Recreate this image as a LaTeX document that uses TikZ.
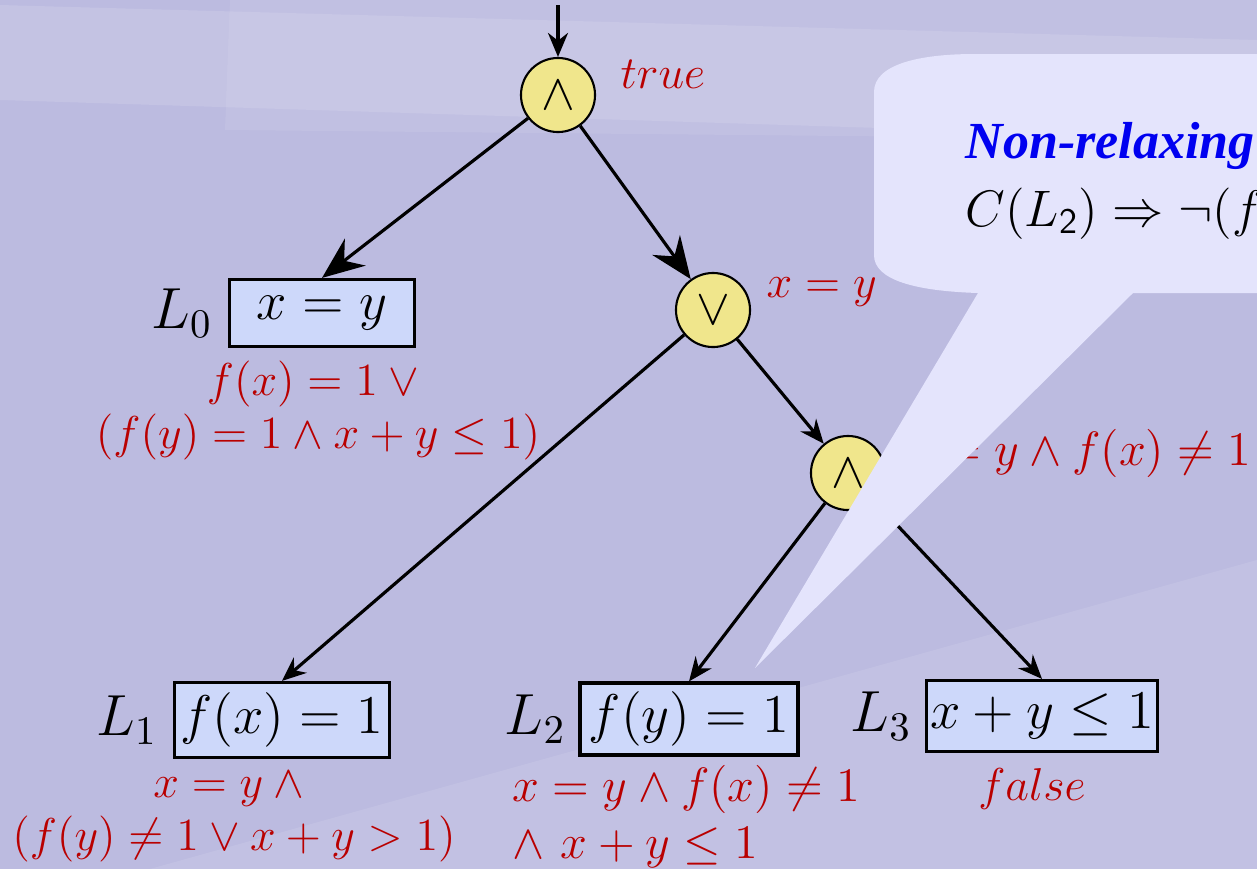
\documentclass[tikz,border=0pt]{standalone}
\usepackage{fix-cm}
\usepackage{fontspec}
\newfontfamily\callfont{Liberation Serif}
\usetikzlibrary{arrows.meta,positioning}
\definecolor{slidebg}{RGB}{188,187,224}
\definecolor{boxfill}{RGB}{205,216,250}
\definecolor{gatefill}{RGB}{240,230,140}
\definecolor{callfill}{RGB}{228,228,252}
\definecolor{condred}{RGB}{185,0,0}
\definecolor{callblue}{RGB}{0,0,240}
\tikzset{
  gate/.style={circle,draw,line width=0.6pt,fill=gatefill,minimum size=0.74cm,inner sep=0pt,font=\fontsize{14.4}{17}\selectfont},
  leaf/.style={draw,line width=0.9pt,fill=boxfill,inner sep=1pt,font=\fontsize{15.5}{18}\selectfont},
  leafname/.style={inner sep=0pt,font=\fontsize{16.5}{20}\selectfont},
  cond/.style={text=condred,inner sep=0pt,font=\fontsize{13.1}{15.1}\selectfont},
  link/.style={line width=0.9pt,-{Stealth[length=0.24cm,width=0.2cm]}},
  biglink/.style={line width=0.9pt,-{Stealth[length=0.42cm,width=0.34cm,inset=0.14cm]}}
}
\begin{document}
\begin{tikzpicture}[x=0.01cm,y=-0.01cm]
\useasboundingbox (0,0) rectangle (1257,869);
\clip (0,0) rectangle (1257,869);
\fill[slidebg] (0,0) rectangle (1257,869);
\fill[white,opacity=0.12] (0,5) -- (1257,40) -- (1257,140) -- (0,100) -- cycle;
\fill[white,opacity=0.08] (230,0) -- (1257,0) -- (1257,140) -- (225,130) -- cycle;
\fill[white,opacity=0.1] (150,869) -- (1257,560) -- (1257,869) -- cycle;

\node[gate] (root) at (558,95) {$\wedge$};
\node[gate] (disj) at (713,310) {$\vee$};
\node[gate] (conj) at (848,473) {$\wedge$};
\coordinate (entry) at (558,5);

\node[leaf,minimum width=1.85cm,minimum height=0.67cm] (l0) at (322,313) {$x = y$};
\node[leaf,minimum width=2.15cm,minimum height=0.75cm] (l1) at (282,720) {$f(x) = 1$};
\node[leaf,minimum width=2.18cm,minimum height=0.72cm] (l2) at (689,719) {$f(y) = 1$};
\node[leaf,minimum width=2.29cm,minimum height=0.71cm] (l3) at (1042,716) {$x + y \leq 1$};

\node[leafname,left=0.15cm of l0] (n0) {$L_0$};
\node[leafname,left=0.15cm of l1] (n1) {$L_1$};
\node[leafname,left=0.12cm of l2] (n2) {$L_2$};
\node[leafname,left=0.13cm of l3] (n3) {$L_3$};

\node[cond,anchor=base west] (c-root) at (620,88) {$true$};
\node[cond,anchor=base west] (c-disj) at (766,297) {$x = y$};
\node[cond,anchor=base east,font=\fontsize{13.7}{16}\selectfont] (c-conj) at (1252,465) {$x = y \wedge f(x) \neq 1$};
\node[cond,align=center,anchor=north] (c0) at (318,360) {$f(x) = 1 \vee{}$\\$(f(y) = 1 \wedge x + y \leq 1)$};
\node[cond,align=center,anchor=north] (c1) at (234,771) {$x = y \wedge{}$\\$(f(y) \neq 1 \vee x + y > 1)$};
\node[cond,align=left,anchor=north west,font=\fontsize{13.7}{16.2}\selectfont] (c2) at (512,765) {$x = y \wedge f(x) \neq 1$\\$\wedge\ x + y \leq 1$};
\node[cond,anchor=base] (c3) at (1032,800) {$false$};

\draw[link] (entry) -- (root);
\draw[biglink] (root) -- (l0.north);
\draw[biglink] (root) -- (disj);
\draw[link] (disj) -- (l1.north);
\draw[link] (disj) -- (conj);
\draw[link] (conj) -- (l2.north);
\draw[link] (conj) -- (l3.north);

\fill[callfill] (874,92) .. controls (874,64) and (920,54) .. (975,54) -- (1270,54) -- (1270,293) -- (1133,293) -- (755,668) -- (978,293) .. controls (915,291) and (874,280) .. (874,255) -- cycle;
\node[anchor=base west,inner sep=0pt,text=callblue,font=\callfont\bfseries\itshape\fontsize{14.8}{17}\selectfont] (callhead) at (965,158) {Non-relaxing};
\node[anchor=base west,inner sep=0pt,font=\fontsize{14.6}{17}\selectfont] (callbody) at (965,226) {$C(L_{\mathsf{2}}) \Rightarrow \neg(f($};
\end{tikzpicture}
\end{document}
